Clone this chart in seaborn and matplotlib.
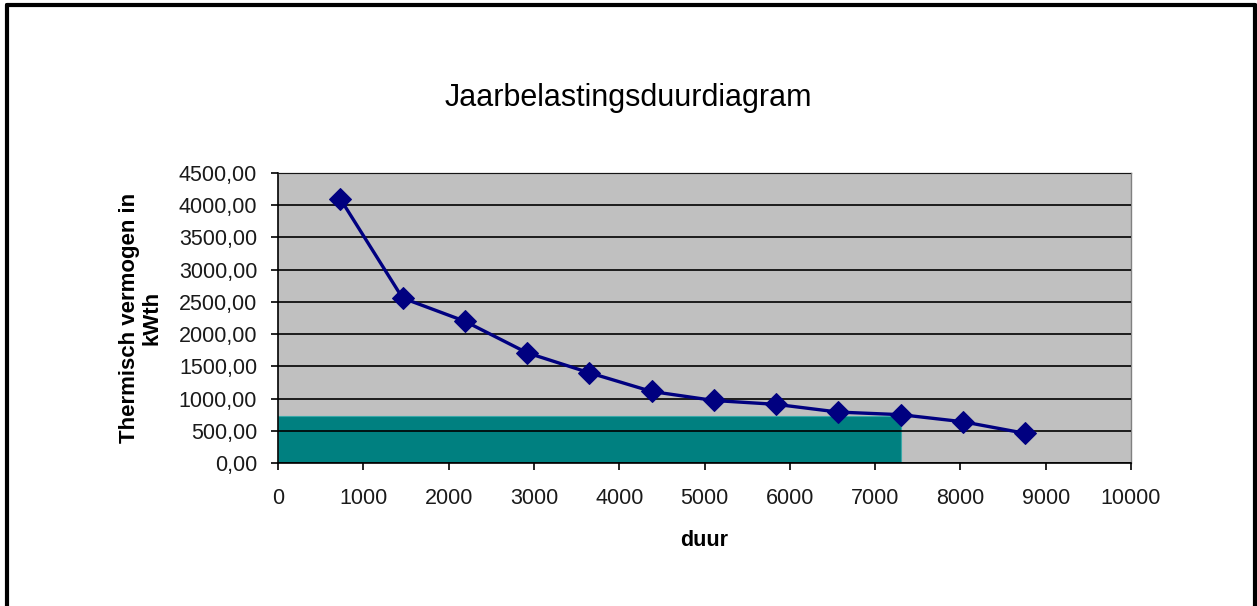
import matplotlib
matplotlib.use('Agg')
import matplotlib.pyplot as plt
import seaborn as sns
import pandas as pd
from matplotlib.ticker import FuncFormatter, MultipleLocator
from matplotlib.lines import Line2D

# data
duur = [730, 1460, 2190, 2920, 3650, 4380, 5110, 5840, 6570, 7300, 8030, 8760]
vermogen = [4100, 2560, 2200, 1710, 1400, 1110, 970, 910, 790, 750, 640, 460]
basis_duur = [7300]
basis_vermogen = [730]

df = pd.DataFrame({'duur': duur, 'vermogen': vermogen})

sns.set_theme(style='white')
plt.rcParams['font.family'] = ['Liberation Sans', 'DejaVu Sans']

fig = plt.figure(figsize=(12.57, 6.06), dpi=100)
ax = fig.add_axes([278 / 1257, 1 - 463 / 606, (1131 - 278) / 1257, (463 - 173) / 606])
ax.set_facecolor('#c0c0c0')

# base load block
ax.bar([0], basis_vermogen, width=basis_duur, align='edge', color='#008080',
       edgecolor='#3aa8a8', linewidth=0.8, zorder=1)

sns.lineplot(data=df, x='duur', y='vermogen', ax=ax, color='#000080', linewidth=2.4,
             marker='D', markersize=11, markeredgecolor='#000080', zorder=3)

ax.set_xlim(0, 10000)
ax.set_ylim(0, 4500)
ax.xaxis.set_major_locator(MultipleLocator(1000))
ax.yaxis.set_major_locator(MultipleLocator(500))
ax.yaxis.set_major_formatter(FuncFormatter(lambda v, p: f'{v:.2f}'.replace('.', ',')))

ax.set_axisbelow(False)
ax.grid(axis='y', color='black', linewidth=1.2, zorder=2)
ax.grid(axis='x', visible=False)
for side in ['top', 'right']:
    ax.spines[side].set_color('#808080')
    ax.spines[side].set_linewidth(1)
for side in ['left', 'bottom']:
    ax.spines[side].set_color('black')
    ax.spines[side].set_linewidth(1.2)

ax.tick_params(axis='both', direction='out', length=5, width=1.2, color='black',
               labelsize=15.5, labelcolor='#1a1a1a', bottom=True, left=True)
ax.tick_params(axis='x', pad=13)
ax.tick_params(axis='y', pad=10)

fig.text(0.5, 1 - 98 / 606, 'Jaarbelastingsduurdiagram', fontsize=22, ha='center',
         va='center', color='black')
ax.set_xlabel('duur', fontsize=15.5, fontweight='bold', labelpad=15, color='black')
ax.set_ylabel('Thermisch vermogen in\nkWth', fontsize=16, fontweight='bold', labelpad=12,
              color='black', linespacing=1.05)

# outer frame of the chart object
fig.add_artist(Line2D([7 / 1257, 7 / 1257], [0, 1 - 5 / 606], color='black', linewidth=3,
                      transform=fig.transFigure))
fig.add_artist(Line2D([7 / 1257, 1255 / 1257], [1 - 5 / 606, 1 - 5 / 606], color='black',
                      linewidth=3, transform=fig.transFigure))
fig.add_artist(Line2D([1255 / 1257, 1255 / 1257], [0, 1 - 5 / 606], color='black', linewidth=3,
                      transform=fig.transFigure))

fig.savefig('out.png', dpi=100)
